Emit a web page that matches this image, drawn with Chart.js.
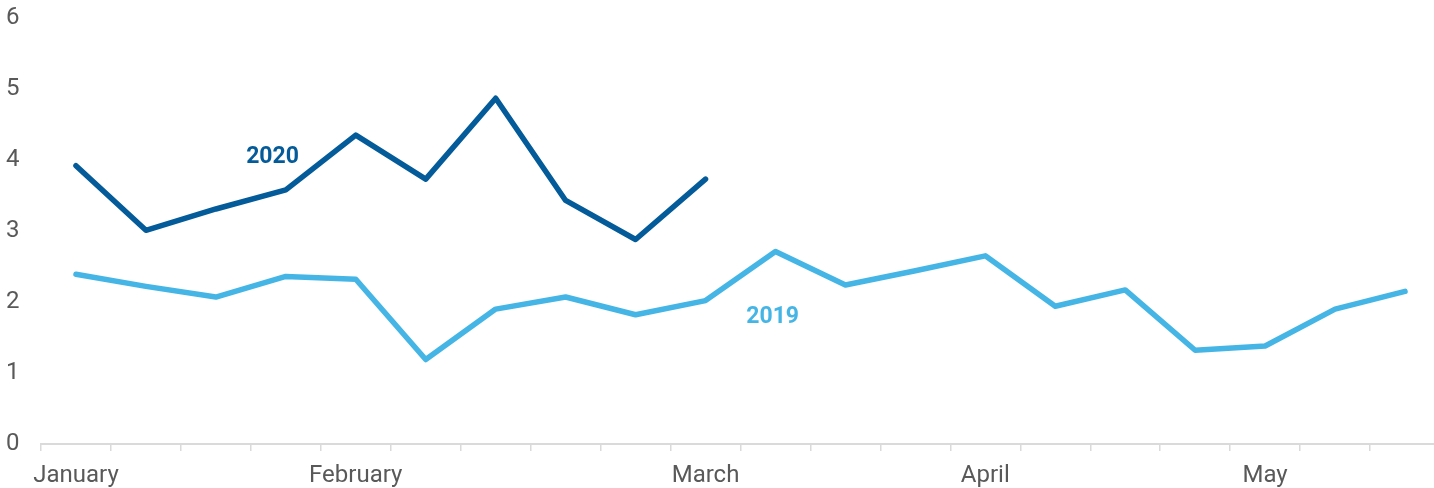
<!DOCTYPE html>
<html>
<head>
<meta charset="utf-8">
<script src="https://cdn.jsdelivr.net/npm/chart.js@4/dist/chart.umd.min.js"></script>
<style>
    html, body { margin: 0; padding: 0; background: #fff; overflow: hidden; }
    #wrap { position: relative; width: 1440px; height: 488px; }
</style>
</head>
<body>
<div id="wrap"><canvas id="trendChart"></canvas></div>
<script>
// weekly categories, only month starts carry a label
const weekLabels = ['January', '', '', '', 'February', '', '', '', '', 'March', '', '', '',
    'April', '', '', '', 'May', '', ''];
const values2020 = [3.92, 3.01, 3.31, 3.58, 4.35, 3.73, 4.87, 3.43, 2.88, 3.73];
const values2019 = [2.39, 2.22, 2.07, 2.36, 2.32, 1.19, 1.90, 2.07, 1.82, 2.02,
    2.71, 2.24, 2.44, 2.65, 1.94, 2.17, 1.32, 1.38, 1.90, 2.15];
const yTicks = [0, 1, 2, 3, 4, 5, 6];

const COLOR_2020 = '#045b99';
const COLOR_2019 = '#45b5e6';

// series names written next to the lines (x = category index, y = value)
const seriesTags = [
    { text: '2020', x: 2.81, y: 4.04, color: COLOR_2020 },
    { text: '2019', x: 9.96, y: 1.79, color: COLOR_2019 }
];

const tagPlugin = {
    id: 'seriesTags',
    afterDatasetsDraw(chart) {
        const { ctx, scales } = chart;
        ctx.save();
        ctx.font = 'bold 23px Roboto';
        ctx.textAlign = 'center';
        ctx.textBaseline = 'middle';
        seriesTags.forEach(t => {
            ctx.fillStyle = t.color;
            ctx.fillText(t.text, scales.x.getPixelForValue(t.x), scales.y.getPixelForValue(t.y));
        });
        ctx.restore();
    }
};

function initTrendChart() {
    const ctx = document.getElementById('trendChart').getContext('2d');
    new Chart(ctx, {
        type: 'line',
        data: {
            labels: weekLabels,
            datasets: [{
                label: '2020',
                data: values2020,
                borderColor: COLOR_2020,
                borderWidth: 5.5,
                borderCapStyle: 'round',
                borderJoinStyle: 'round',
                pointRadius: 0,
                tension: 0
            }, {
                label: '2019',
                data: values2019,
                borderColor: COLOR_2019,
                borderWidth: 5.5,
                borderCapStyle: 'round',
                borderJoinStyle: 'round',
                pointRadius: 0,
                tension: 0
            }]
        },
        options: {
            responsive: true,
            maintainAspectRatio: false,
            animation: false,
            layout: { padding: { top: 18, right: 0, bottom: 0, left: 6 } },
            plugins: {
                legend: { display: false },
                tooltip: { enabled: false }
            },
            scales: {
                x: {
                    offset: true,
                    grid: {
                        offset: true,
                        drawOnChartArea: false,
                        drawTicks: true,
                        tickLength: 7,
                        color: '#dadada',
                        lineWidth: 1.5
                    },
                    border: { display: true, color: '#dadada', width: 2 },
                    ticks: {
                        autoSkip: false,
                        maxRotation: 0,
                        padding: 11,
                        color: '#595959',
                        font: { family: 'Roboto', size: 24 }
                    },
                    afterFit(scale) { scale.height = 44; }
                },
                y: {
                    min: 0,
                    max: 6,
                    afterBuildTicks(scale) { scale.ticks = yTicks.map(v => ({ value: v })); },
                    grid: { display: false, drawTicks: false },
                    border: { display: false },
                    ticks: {
                        padding: 0,
                        crossAlign: 'far',
                        color: '#595959',
                        font: { family: 'Roboto', size: 24 }
                    },
                    afterFit(scale) { scale.width = 35; }
                }
            }
        },
        plugins: [tagPlugin]
    });
}

initTrendChart();
</script>
</body>
</html>
